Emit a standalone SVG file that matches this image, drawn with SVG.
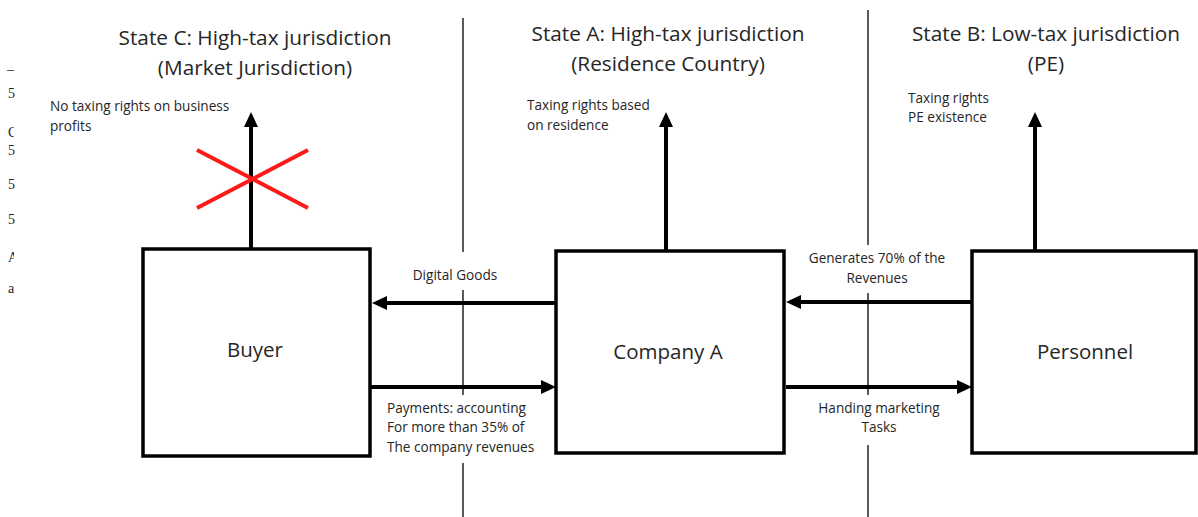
<svg xmlns="http://www.w3.org/2000/svg" width="1198" height="517" viewBox="0 0 1198 517">
<style>
text{font-family:"Open Sans","Noto Sans","Liberation Sans",sans-serif;fill:#262626}
.t{font-size:20.8px;text-anchor:middle}
.s{font-size:13.6px}
.c{text-anchor:middle}
.n{font-size:20.5px;text-anchor:middle}
.box{fill:#fff;stroke:#000;stroke-width:3.5}
.arr{stroke:#000;stroke-width:4;fill:none}
.div{stroke:#000;stroke-width:1.3}
.bg{fill:#fff}
.edge{font-family:"Liberation Serif",serif;font-size:14px;fill:#222}
</style>
<defs>
<marker id="ah" markerUnits="userSpaceOnUse" markerWidth="16" markerHeight="14" refX="6" refY="7" orient="auto">
<path d="M0,0 L15,7 L0,14 z" fill="#000"/>
</marker>
<clipPath id="edgeclip"><rect x="0" y="0" width="14" height="517"/></clipPath>
</defs>
<rect width="1198" height="517" fill="#fff"/>
<g id="edge-fragments">
<text class="edge" x="7" y="74">–</text>
<text class="edge" x="8" y="98">5</text>
<g clip-path="url(#edgeclip)"><text class="edge" x="8" y="137">C</text></g>
<text class="edge" x="8" y="155">5</text>
<text class="edge" x="8" y="189">5</text>
<text class="edge" x="8" y="224">5</text>
<g clip-path="url(#edgeclip)"><text class="edge" x="8" y="262">A</text>
<text class="edge" x="8" y="293">a</text></g>
</g>
<g id="dividers">
<line class="div" x1="463" y1="18" x2="463" y2="517"/>
<line class="div" x1="868" y1="10" x2="868" y2="517"/>
</g>
<g id="titles">
<text class="t" x="255" y="45">State C: High-tax jurisdiction</text>
<text class="t" x="255" y="75">(Market Jurisdiction)</text>
<text class="t" x="668" y="41">State A: High-tax jurisdiction</text>
<text class="t" x="668" y="71">(Residence Country)</text>
<text class="t" x="1046" y="41">State B: Low-tax jurisdiction</text>
<text class="t" x="1046" y="71">(PE)</text>
</g>
<g id="connectors">
<line class="arr" x1="251" y1="248" x2="251" y2="121" marker-end="url(#ah)"/>
<line class="arr" x1="666" y1="250" x2="666" y2="121" marker-end="url(#ah)"/>
<line class="arr" x1="1035" y1="250" x2="1035" y2="121" marker-end="url(#ah)"/>
<line class="arr" x1="556" y1="303" x2="381" y2="303" marker-end="url(#ah)"/>
<line class="arr" x1="370" y1="387" x2="547" y2="387" marker-end="url(#ah)"/>
<line class="arr" x1="972" y1="302" x2="795" y2="302" marker-end="url(#ah)"/>
<line class="arr" x1="786" y1="387" x2="963" y2="387" marker-end="url(#ah)"/>
</g>
<g id="red-cross" stroke="#ff1a1a" stroke-width="4">
<line x1="197" y1="150" x2="308" y2="208"/>
<line x1="197" y1="208" x2="308" y2="150"/>
</g>
<g id="labels">
<text class="s" x="50" y="111">No taxing rights on business</text>
<text class="s" x="50" y="131">profits</text>
<text class="s" x="527" y="110">Taxing rights based</text>
<text class="s" x="527" y="130">on residence</text>
<text class="s" x="908" y="103">Taxing rights</text>
<text class="s" x="908" y="122">PE existence</text>
<rect class="bg" x="405" y="252" width="100" height="38"/>
<text class="s c" x="455" y="280">Digital Goods</text>
<rect class="bg" x="383" y="395" width="160" height="68"/>
<text class="s" x="387" y="413">Payments: accounting</text>
<text class="s" x="387" y="432">For more than 35% of</text>
<text class="s" x="387" y="452">The company revenues</text>
<rect class="bg" x="800" y="245" width="155" height="48"/>
<text class="s c" x="877" y="263">Generates 70% of the</text>
<text class="s c" x="877" y="283">Revenues</text>
<rect class="bg" x="810" y="395" width="140" height="50"/>
<text class="s c" x="879" y="413">Handing marketing</text>
<text class="s c" x="879" y="432">Tasks</text>
</g>
<g id="buyer">
<rect class="box" x="143" y="249" width="227" height="207"/>
<text class="n" x="255" y="357">Buyer</text>
</g>
<g id="company-a">
<rect class="box" x="556" y="251" width="228" height="202"/>
<text class="n" x="668" y="359">Company A</text>
</g>
<g id="personnel">
<rect class="box" x="972" y="251" width="224" height="202"/>
<text class="n" x="1085" y="359">Personnel</text>
</g>
</svg>
